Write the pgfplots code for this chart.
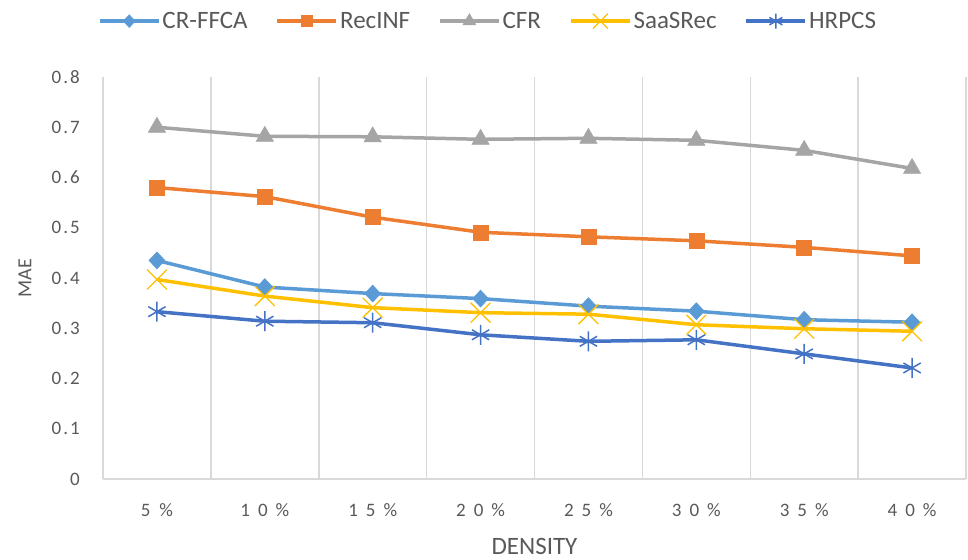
\documentclass[border=0pt]{standalone}
\usepackage{fontspec}
\setmainfont{Carlito}
\usepackage{pgfplots}
\pgfplotsset{compat=1.18}

\definecolor{cA}{HTML}{5B9BD5}
\definecolor{cB}{HTML}{ED7D31}
\definecolor{cC}{HTML}{A5A5A5}
\definecolor{cD}{HTML}{FFC000}
\definecolor{cE}{HTML}{4472C4}
\definecolor{txt}{HTML}{595959}
\definecolor{gridgray}{HTML}{D9D9D9}

% MAE per density level (0 = 5%, ..., 7 = 40%)
\pgfplotstableread{
x  crffca recinf cfr   saasrec hrpcs
0  0.435  0.580  0.700 0.397   0.333
1  0.382  0.562  0.682 0.364   0.314
2  0.369  0.521  0.681 0.341   0.311
3  0.359  0.491  0.676 0.331   0.287
4  0.344  0.482  0.678 0.328   0.274
5  0.334  0.474  0.674 0.307   0.277
6  0.317  0.461  0.654 0.299   0.249
7  0.312  0.444  0.618 0.294   0.221
}\maetable

\newcommand{\yl}[1]{0\kern2bp.\kern2bp#1}
\newcommand{\xa}[1]{#1\kern9bp\%}
\newcommand{\xb}[2]{#1\kern8bp#2\kern8bp\%}

\begin{document}
\begin{tikzpicture}
\begin{axis}[
  scale only axis,
  width=863bp, height=402bp,
  xmin=-0.5, xmax=7.5, ymin=0, ymax=0.8,
  clip=false,
  xtick={0,1,2,3,4,5,6,7},
  xticklabels={\xa{5},\xb{1}{0},\xb{1}{5},\xb{2}{0},\xb{2}{5},\xb{3}{0},\xb{3}{5},\xb{4}{0}},
  minor xtick={0.5,1.5,2.5,3.5,4.5,5.5,6.5,7.5},
  xminorgrids,
  minor grid style={draw=gridgray, line width=1.5bp},
  ytick={0,0.1,0.2,0.3,0.4,0.5,0.6,0.7,0.8},
  yticklabels={0,\yl{1},\yl{2},\yl{3},\yl{4},\yl{5},\yl{6},\yl{7},\yl{8}},
  major tick length=0, minor tick length=0,
  axis x line*=bottom, axis y line*=left,
  axis line style={draw=gridgray, line width=1.5bp, -},
  tick label style={text=txt, font=\fontsize{19bp}{21bp}\selectfont},
  yticklabel style={anchor=east, inner sep=0pt, xshift=-23bp},
  xticklabel style={anchor=north, inner sep=0pt, yshift=-24bp},
  xlabel={DENSITY},
  ylabel={MAE},
  xlabel style={at={(axis description cs:0.5,-0.1667)}, anchor=center, inner sep=0pt,
    text=txt, font=\fontsize{25bp}{27bp}\selectfont},
  ylabel style={at={(axis description cs:-0.0904,0.5)}, anchor=center, inner sep=0pt,
    text=txt, font=\fontsize{20bp}{22bp}\selectfont},
  legend columns=5,
  legend style={draw=none, fill=none, at={(-0.0058,1.139)}, anchor=west,
    inner sep=0pt, outer sep=0pt,
    font=\fontsize{25bp}{27bp}\selectfont, text=txt,
    nodes={inner xsep=2bp, inner ysep=0pt},
    /tikz/every even column/.append style={column sep=26bp}},
  legend image code/.code={%
    \draw[mark repeat=2, mark phase=2, #1, line width=3.5bp,
      every mark/.append style={scale=0.75}]
      plot coordinates {(0bp,0bp) (29.5bp,0bp) (59bp,0bp)};},
  every axis plot/.append style={line width=3.5bp},
]
\coordinate (O) at (rel axis cs:0,0);

\addplot[color=cA, mark=diamond*, mark size=8.5bp,
  mark options={fill=cA, draw=cA, line width=0.5bp, xscale=1.25}]
  table[x=x, y=crffca]{\maetable};
\addlegendentry{CR-FFCA}

\addplot[color=cB, mark=square*, mark size=7.5bp,
  mark options={fill=cB, draw=cB, line width=0.5bp}]
  table[x=x, y=recinf]{\maetable};
\addlegendentry{RecINF}

\addplot[color=cC, mark=triangle*, mark size=10bp,
  mark options={fill=cC, draw=cC, line width=0.5bp}]
  table[x=x, y=cfr]{\maetable};
\addlegendentry{CFR}

\addplot[color=cD, mark=x, mark size=14bp,
  mark options={draw=cD, line width=1.3bp}]
  table[x=x, y=saasrec]{\maetable};
\addlegendentry{SaaSRec}

\addplot[color=cE, mark=asterisk, mark size=10bp,
  mark options={draw=cE, line width=1.5bp}]
  table[x=x, y=hrpcs]{\maetable};
\addlegendentry{HRPCS}
\end{axis}
\pgfresetboundingbox
\path[use as bounding box] (O) ++(-103bp,-81bp) rectangle ++(968bp,560bp);
\end{tikzpicture}
\end{document}
